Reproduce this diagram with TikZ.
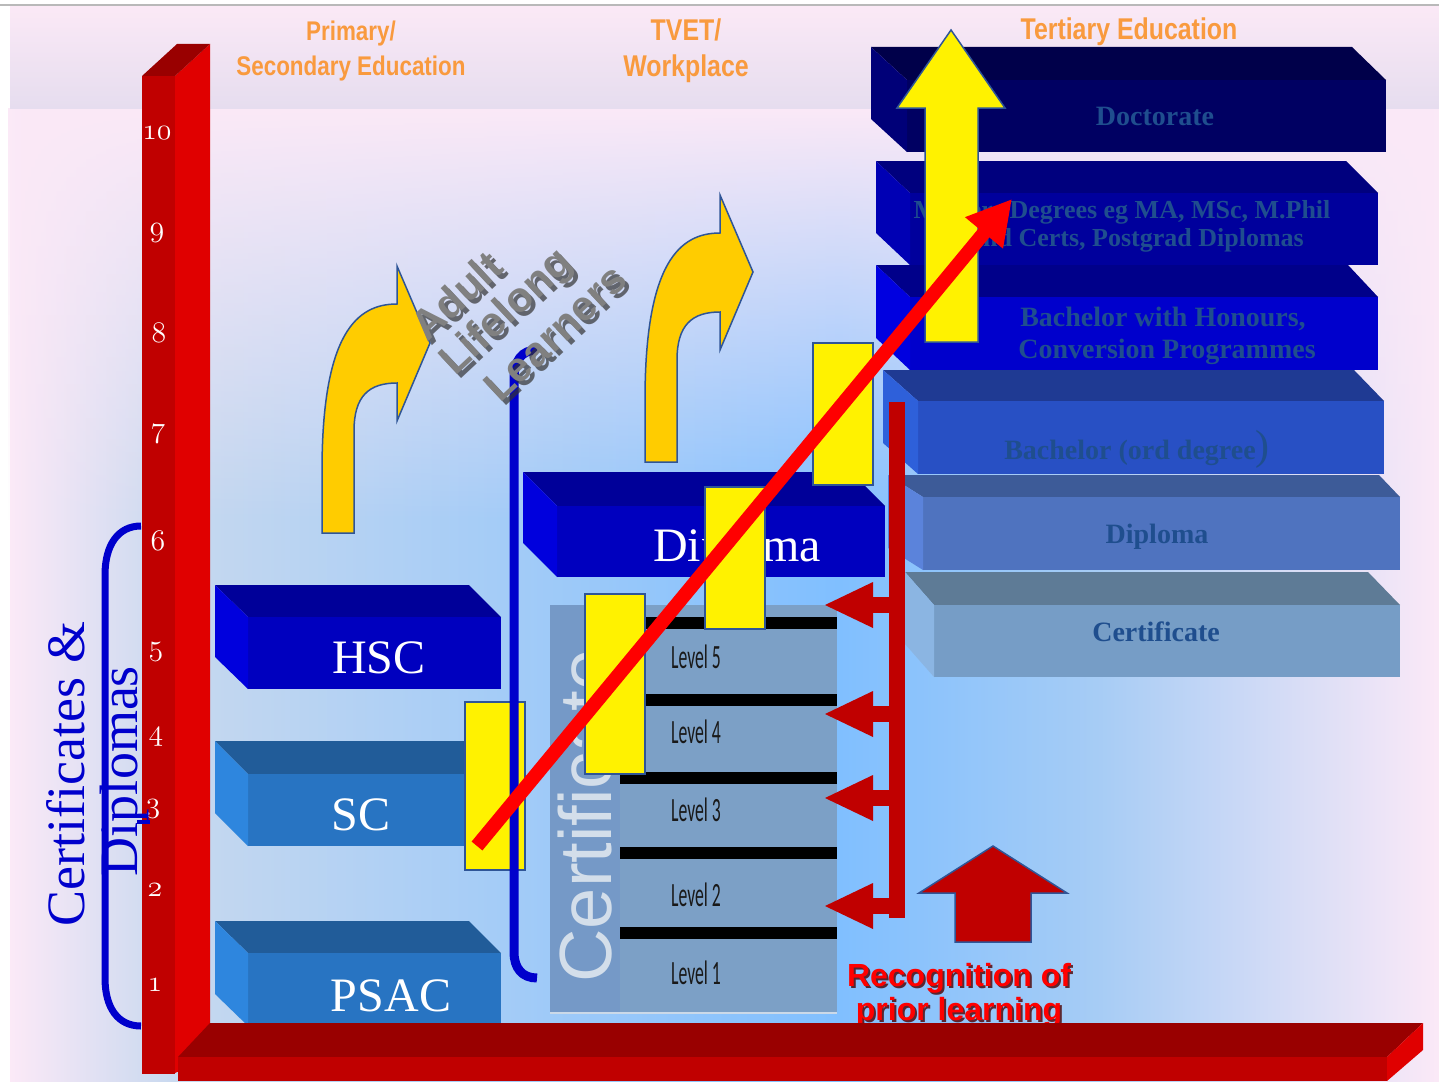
\documentclass[tikz,border=0pt]{standalone}
\usepackage{fontspec}
\usepackage{graphicx}
\usetikzlibrary{arrows.meta,fadings}
\newfontfamily\lsans{Liberation Sans}
\newfontfamily\condsans[FakeStretch=0.83]{Liberation Sans}
\newfontfamily\lserif{Liberation Serif}
\newfontfamily\levelfont[FakeStretch=0.52]{Carlito}

\definecolor{bgpink}{HTML}{FBE9F7}
\definecolor{bglav}{HTML}{C6D8EF}
\definecolor{bgblue}{HTML}{80BFFF}
\definecolor{bgmid}{HTML}{A6CCF5}
\definecolor{bandtop}{HTML}{FBE9F6}
\definecolor{bandbot}{HTML}{E6DDEF}
\definecolor{barfront}{HTML}{C00000}
\definecolor{barside}{HTML}{E00000}
\definecolor{bartop}{HTML}{990000}
\definecolor{labor}{HTML}{F99A3E}
\definecolor{brblue}{HTML}{0000CC}
\definecolor{arryel}{HTML}{FFCC00}
\definecolor{outl}{HTML}{2F5597}
\definecolor{rplred}{HTML}{C00000}
\definecolor{certpanel}{HTML}{7CA0C6}
\definecolor{certstrip}{HTML}{7599C7}
\definecolor{certtext}{HTML}{D3DEEA}
\definecolor{tertext}{HTML}{1F4E8E}
\definecolor{hscT}{HTML}{000099}\definecolor{hscF}{HTML}{0000BF}\definecolor{hscL}{HTML}{0000DD}
\definecolor{scT}{HTML}{215C99}\definecolor{scF}{HTML}{2874C2}\definecolor{scL}{HTML}{2E86DE}
\definecolor{docT}{HTML}{00004A}\definecolor{docF}{HTML}{000062}\definecolor{docL}{HTML}{000078}
\definecolor{masT}{HTML}{00007E}\definecolor{masF}{HTML}{00009C}\definecolor{masL}{HTML}{0000B4}
\definecolor{honT}{HTML}{00008A}\definecolor{honF}{HTML}{0000CC}\definecolor{honL}{HTML}{0000E0}
\definecolor{bacT}{HTML}{1F3A93}\definecolor{bacF}{HTML}{2850C4}\definecolor{bacL}{HTML}{2E60DA}
\definecolor{dipT}{HTML}{3D5B98}\definecolor{dipF}{HTML}{4F73BF}\definecolor{dipL}{HTML}{5B83DB}
\definecolor{cerT}{HTML}{5E7B96}\definecolor{cerF}{HTML}{769DC6}\definecolor{cerL}{HTML}{8BB5E2}

\pgfdeclarehorizontalshading{bgh}{100bp}{color(0bp)=(bgpink); color(25bp)=(bgpink); color(31bp)=(bglav); color(54bp)=(bgblue); color(63bp)=(bgmid); color(75bp)=(bgpink); color(100bp)=(bgpink)}
\tikzfading[name=topfade, top color=transparent!0, bottom color=transparent!100]

% 3D block: x0, y0, dx left, dx right, dy, x right, y bottom, colour set
\newcommand\tdblk[8]{%
  \fill[#8T] (#1,#2) -- (#6-#4,#2) -- (#6,#2+#5) -- (#1+#3,#2+#5) -- cycle;
  \fill[#8F] (#1+#3,#2+#5) rectangle (#6,#7);
  \fill[#8L] (#1,#2) -- (#1+#3,#2+#5) -- (#1+#3,#7) -- (#1,#7-#5) -- cycle;}
\newcommand\bentarrow{(645,462) -- (645,400) .. controls (645,262) and (680,233) .. (720,233) -- (720,195) -- (753,272) -- (720,350) -- (720,312) .. controls (692,312) and (677,325) .. (677,360) -- (677,462) -- cycle}
\newcommand\onum[1]{\scalebox{1.2}{$\mathnormal{#1}$}}

\tikzset{
  orangelab/.style={text=labor, inner sep=0pt, anchor=base},
  numlab/.style={text=white, inner sep=0pt, anchor=base, font=\fontsize{24.88}{26}\selectfont},
  blocktext/.style={text=white, inner sep=0pt, anchor=base, font=\lserif\fontsize{48}{50}\selectfont},
  tertlab/.style={text=tertext, inner sep=0pt, anchor=base, font=\lserif\bfseries\fontsize{28}{30}\selectfont},
  levellab/.style={text=black!90, inner sep=0pt, font=\levelfont\fontsize{34}{36}\selectfont},
  yrect/.style={fill=yellow, draw=outl, line width=1.5pt},
  adult/.style={inner sep=0pt, anchor=base west, rotate=43, font=\lsans\bfseries\fontsize{42}{44}\selectfont},
  rpltext/.style={inner sep=0pt, anchor=base, font=\lsans\bfseries\fontsize{32}{34}\selectfont},
}

\begin{document}
\begin{tikzpicture}[x=1pt,y=-1pt]
\useasboundingbox (0,0) rectangle (1439,1081);
\fill[white] (0,0) rectangle (1439,1081);
% background
\shade[shading=bgh] (10,108) rectangle (1439,1081);
\fill[bgpink, path fading=topfade] (10,108) rectangle (1439,520);
\shade[top color=bandtop, bottom color=bandbot] (10,5) rectangle (1439,108);
\draw[gray!55, line width=1.2pt] (0,5) -- (1439,5);

% column headings
\node[orangelab, font=\condsans\bfseries\fontsize{27}{30}\selectfont] (hp1) at (351,41) {Primary/};
\node[orangelab, font=\condsans\bfseries\fontsize{27}{30}\selectfont] (hp2) at (351,75) {Secondary Education};
\node[orangelab, font=\condsans\bfseries\fontsize{30}{32}\selectfont] (ht1) at (686,41) {TVET/};
\node[orangelab, font=\condsans\bfseries\fontsize{30}{32}\selectfont] (ht2) at (686,76) {Workplace};
\node[orangelab, font=\condsans\bfseries\fontsize{30}{32}\selectfont] (hte) at (1129,40) {Tertiary Education};

% vertical red axis
\fill[barside] (175,76) -- (210,44) -- (210,1057) -- (175,1073) -- cycle;
\fill[bartop] (142,76) -- (175,76) -- (210,44) -- (177,44) -- cycle;
\fill[barfront] (142,76) rectangle (175,1074);
\node[numlab] (n10) at (157,139) {\onum{10}};
\node[numlab] (n9) at (157,236) {\onum{9}};
\node[numlab] (n8) at (159,342) {\onum{8}};
\node[numlab] (n7) at (158,437) {\onum{7}};
\node[numlab] (n6) at (158,550) {\onum{6}};
\node[numlab] (n5) at (156,655) {\onum{5}};
\node[numlab] (n4) at (156,740) {\onum{4}};
\node[numlab] (n3) at (153,812) {\onum{3}};
\node[numlab] (n2) at (155,896) {\onum{2}};
\node[numlab] (n1) at (155,991) {\onum{1}};

% left bracket and label
\draw[brblue, line width=7pt] (141,526) .. controls (118,526) and (105,545) .. (105,575) -- (105,978) .. controls (105,1008) and (118,1026) .. (141,1026);
\draw[brblue, line width=4pt] (137,822) -- (150,822);
\node[text=brblue, rotate=90, inner sep=0pt, font=\lserif\fontsize{54}{56}\selectfont] (cd1) at (66,774) {Certificates \&};
\node[text=brblue, rotate=90, inner sep=0pt, font=\lserif\fontsize{54}{56}\selectfont] (cd2) at (125,771) {Diplomas};

% left blocks
\tdblk{215}{585}{33}{32}{32}{501}{689}{hsc}
\tdblk{215}{741}{33}{32}{33}{501}{846}{sc}
\tdblk{215}{921}{33}{32}{32}{501}{1026}{sc}
\node[blocktext] (hsc) at (379,673) {HSC};
\node[blocktext] (sc) at (361,830) {SC};
\node[blocktext] (psac) at (391,1011) {PSAC};

% curved yellow arrows
\filldraw[fill=arryel, draw=outl, line width=1.5pt] \bentarrow;
\begin{scope}[shift={(-323,71)}]
\filldraw[fill=arryel, draw=outl, line width=1.5pt] \bentarrow;
\end{scope}

% TVET diploma block
\tdblk{523}{472}{34}{34}{34}{885}{577}{hsc}
\node[blocktext] (tdip) at (737,561) {Diploma};

% certificate panel
\fill[certpanel] (550,605) rectangle (837,1013);
\fill[certstrip] (550,605) rectangle (620,1013);
\draw[white!60!certpanel, line width=2pt] (550,1013) -- (837,1013);
\node[text=certtext, rotate=90, inner sep=0pt, font=\lsans\fontsize{74}{76}\selectfont] (certv) at (585,816) {Certificate};
\foreach \yy in {623,700,778,853,933} {\fill[black] (620,\yy-6) rectangle (837,\yy+6);}
\node[levellab] (l5) at (696,657) {Level 5};
\node[levellab] (l4) at (696,732) {Level 4};
\node[levellab] (l3) at (696,810) {Level 3};
\node[levellab] (l2) at (696,895) {Level 2};
\node[levellab] (l1) at (696,973) {Level 1};

% tertiary blocks
\tdblk{871}{47}{36}{34}{33}{1386}{152}{doc}
\tdblk{876}{161}{34}{32}{32}{1378}{265}{mas}
\tdblk{876}{265}{34}{30}{32}{1378}{370}{hon}
\tdblk{883}{370}{35}{30}{31}{1384}{474}{bac}
\tdblk{888}{475}{35}{21}{22}{1400}{570}{dip}
\tdblk{905}{572}{29}{32}{33}{1400}{677}{cer}
\node[tertlab] (tdoc) at (1155,125) {Doctorate};
\node[tertlab, font=\lserif\bfseries\fontsize{26}{28}\selectfont] (tmas1) at (1122,218) {Masters Degrees eg MA, MSc, M.Phil};
\node[tertlab, font=\lserif\bfseries\fontsize{26}{28}\selectfont] (tmas2) at (1137,246) {and Certs, Postgrad Diplomas};
\node[tertlab] (thon1) at (1163,326) {Bachelor with Honours,};
\node[tertlab] (thon2) at (1167,358) {Conversion Programmes};
\node[tertlab] (tbac) at (1137,459) {Bachelor (ord degree{\mdseries\fontsize{42}{42}\selectfont )}};
\node[tertlab] (tdipl) at (1157,543) {Diploma};
\node[tertlab] (tcert) at (1156,641) {Certificate};

% recognition of prior learning bracket
\fill[rplred] (889,402) rectangle (905,918);
\foreach \yy in {605,714,798,906} {
  \fill[rplred] (870,\yy-8) rectangle (890,\yy+8);
  \fill[rplred] (825,\yy) -- (873,\yy-23) -- (873,\yy+23) -- cycle;
}

% yellow rectangles
\draw[yrect] (465,702) rectangle (525,870);
\draw[yrect] (585,594) rectangle (645,774);
\draw[yrect] (705,487) rectangle (765,629);
\draw[yrect] (813,343) rectangle (873,485);

% lifelong learners line
\draw[brblue, line width=9pt] (537,350) .. controls (522,350) and (514,360) .. (514,380) -- (514,952) .. controls (514,968) and (522,978) .. (537,978);

% Adult Lifelong Learners text
\begin{scope}[shift={(4,4)}]
\node[adult, text=black!80, opacity=0.7] (as1) at (427,343) {Adult};
\node[adult, text=black!80, opacity=0.7] (as2) at (455,377) {Lifelong};
\node[adult, text=black!80, opacity=0.7] (as3) at (500,404) {Learners};
\end{scope}
\node[adult, text=gray] (a1) at (427,343) {Adult};
\node[adult, text=gray] (a2) at (455,377) {Lifelong};
\node[adult, text=gray] (a3) at (500,404) {Learners};

% big yellow up arrow
\filldraw[fill=yellow, draw=outl, line width=1.5pt] (925,342) -- (925,108) -- (897,108) -- (951,30) -- (1005,108) -- (978,108) -- (978,342) -- cycle;

% red diagonal arrow
\coordinate (ra) at (477,846);
\coordinate (rb) at (1012,199);
\draw[red, line width=14pt, -{Triangle[length=44pt,width=46pt]}] (ra) -- (rb);

% dark red up arrow
\filldraw[fill=rplred, draw=outl, line width=1.5pt] (955,942) -- (955,893) -- (919,893) -- (993,846) -- (1067,893) -- (1031,893) -- (1031,942) -- cycle;

% RPL text
\node[rpltext, text=black!70!red, opacity=0.8] (rs1) at (961,988) {Recognition of};
\node[rpltext, text=black!70!red, opacity=0.8] (rs2) at (961,1022) {prior learning};
\node[rpltext, text=red] (r1) at (959,986) {Recognition of};
\node[rpltext, text=red] (r2) at (959,1020) {prior learning};

% bottom red axis
\fill[bartop] (178,1057) -- (210,1023) -- (1423,1023) -- (1387,1057) -- cycle;
\fill[barfront] (178,1057) rectangle (1387,1081);
\fill[barside] (1387,1057) -- (1423,1023) -- (1423,1050) -- (1387,1081) -- cycle;
\end{tikzpicture}
\end{document}
